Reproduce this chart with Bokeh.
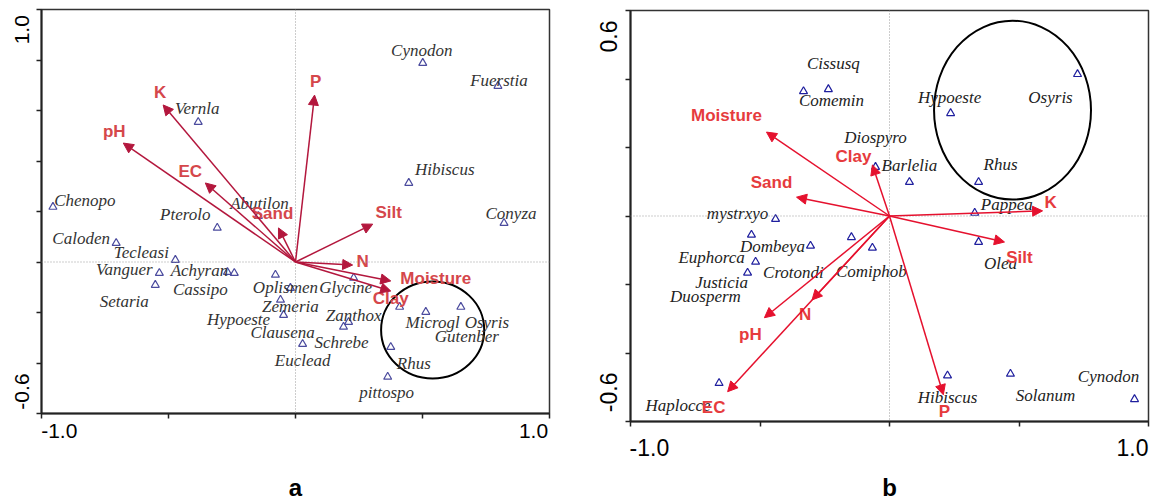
from bokeh.plotting import figure
from bokeh.models import ColumnDataSource, Range1d, FixedTicker, Arrow, NormalHead, Span
from bokeh.layouts import row
from bokeh.embed import file_html
from bokeh.resources import INLINE
from bokeh.core.properties import value

# ---------------- Panel a data ----------------
a_species = ["Vernla", "Chenopo", "Pterolo", "Abutilon", "Caloden", "Tecleasi", "Vanguer",
             "Setaria", "Achyran", "Cassipo", "Oplismen", "Glycine", "Zemeria", "Hypoeste",
             "Clausena", "Zanthox", "Schrebe", "Euclead", "Microgl", "Gutenber", "Osyris",
             "Rhus", "pittospo", "Cynodon", "Fuerstia", "Hibiscus", "Conyza"]
a_sp_x = [-0.383, -0.955, -0.308, -0.146, -0.706, -0.473, -0.536, -0.552, -0.268, -0.241,
          -0.079, 0.229, -0.020, -0.059, -0.047, 0.209, 0.189, 0.028, 0.410, 0.513, 0.651,
          0.375, 0.363, 0.501, 0.797, 0.446, 0.821]
a_sp_y = [0.554, 0.218, 0.135, 0.182, 0.075, 0.008, -0.044, -0.091, -0.040, -0.044,
          -0.051, -0.063, -0.103, -0.150, -0.210, -0.238, -0.257, -0.325, -0.178, -0.198,
          -0.178, -0.337, -0.455, 0.788, 0.697, 0.313, 0.154]
a_env = ["K", "pH", "EC", "Sand", "P", "Silt", "N", "Moisture", "Clay"]
a_env_x = [-0.521, -0.678, -0.355, -0.067, 0.075, 0.304, 0.225, 0.375, 0.375]
a_env_y = [0.622, 0.471, 0.313, 0.135, 0.661, 0.150, -0.012, -0.075, -0.115]
a_x_tick_labels = ["-1.0", "1.0"]
a_y_tick_labels = ["-0.6", "1.0"]
a_panel_label = "a"

# ---------------- Panel b data ----------------
b_species = ["Cissusq", "Comemin", "Hypoeste", "Osyris", "Diospyro", "Barlelia", "Rhus",
             "Pappea", "mystrxyo", "Duosperm", "Dombeya", "Euphorca", "Justicia", "Crotondi",
             "Comiphob", "Olea", "Haplocce", "Hibiscus", "Solanum", "Cynodon"]
b_sp_x = [-0.236, -0.332, 0.236, 0.726, -0.054, 0.077, 0.344, 0.329, -0.440, -0.533,
          -0.305, -0.517, -0.548, -0.147, -0.066, 0.344, -0.658, 0.224, 0.467, 0.946]
b_sp_y = [0.370, 0.364, 0.300, 0.414, 0.143, 0.099, 0.099, 0.009, -0.009, -0.055,
          -0.087, -0.134, -0.166, -0.062, -0.093, -0.076, -0.488, -0.466, -0.461, -0.535]
b_env = ["Moisture", "Sand", "Clay", "K", "Silt", "P", "EC", "pH", "N"]
b_env_x = [-0.475, -0.359, -0.066, 0.591, 0.444, 0.208, -0.625, -0.483, -0.299]
b_env_y = [0.245, 0.055, 0.149, 0.015, -0.076, -0.522, -0.513, -0.297, -0.245]
b_x_tick_labels = ["-1.0", "1.0"]
b_y_tick_labels = ["-0.6", "0.6"]
b_panel_label = "b"

# ---------------- layout: label offsets (screen px) ----------------
a_sp_dx = [-1, 32, -32, 1, -35, -34, -35, -31, -28, -34, 10, -8, 0, -42, -1, 5, -2, 0,
           33, 41, 26, 23, -1, -1, 1, 36, 7]
a_sp_dy = [-14, -6, -13, -13, -5, -7, -4, 17, -2, 16, 13, 10, 18, 20, 17, -7, 16, 16,
           16, 25, 16, 16, 16, -13, -6, -13, -10]
a_env_dx = [-3, -9, -15, -6, 1, 16, 10, 45, 0]
a_env_dy = [-12, -12, -11, -14, -14, -12, -4, -2, 7]

b_sp_dx = [5, 28, -1, -27, 0, 0, 22, 32, -38, -46, -38, -44, -26, -58, -1, 22, -41, 0, 35, -26]
b_sp_dy = [-26, 9, -16, 23, -30, -17, -18, -8, -6, 62, 1, -4, 10, 35, 24, 21, 22, 22, 22, -23]
b_env_dx = [-40, -25, -19, 8, 15, 1, -14, -14, -7]
b_env_dy = [-17, -15, -8, -8, 15, 17, 16, 17, 15]

SERIF = "Liberation Serif"
SANS = "Liberation Sans"


def make_panel(species, sx, sy, sdx, sdy, env, ex, ey, edx, edy,
               x_tick_labels, x_label_pos, y_tick_labels, y_label_pos,
               yr, y_minor, panel_label, width, height, borders, style):
    p = figure(width=width, height=height, x_range=Range1d(-1.0, 1.0), y_range=Range1d(*yr),
               output_backend="svg", toolbar_location=None,
               min_border_left=borders[0], min_border_right=borders[1],
               min_border_top=borders[2], min_border_bottom=borders[3])
    if "frame_align" in p.properties():
        p.frame_align = False
    p.xgrid.visible = False
    p.ygrid.visible = False
    p.outline_line_color = "#333333"
    p.outline_line_width = 1.5
    p.background_fill_color = "white"
    p.border_fill_color = "white"

    for ax in (p.xaxis[0], p.yaxis[0]):
        ax.axis_line_color = "#222222"
        ax.axis_line_width = 2
        ax.major_tick_out = 0
        ax.major_tick_in = 0
        ax.minor_tick_out = 5
        ax.minor_tick_in = 0
        ax.minor_tick_line_color = "#222222"
        ax.minor_tick_line_width = 1.5
        ax.major_label_text_font = SANS
        ax.major_label_text_color = "black"
        ax.major_label_text_font_size = style["tick_fs"]
    p.xaxis.ticker = FixedTicker(ticks=x_label_pos, minor_ticks=[-1.0, -0.5, 0.0, 0.5, 1.0])
    p.xaxis.major_label_overrides = {pos: lab for pos, lab in zip(x_label_pos, x_tick_labels)}
    p.xaxis.major_label_standoff = style["x_standoff"]
    p.yaxis.ticker = FixedTicker(ticks=y_label_pos, minor_ticks=y_minor)
    p.yaxis.major_label_overrides = {pos: lab for pos, lab in zip(y_label_pos, y_tick_labels)}
    p.yaxis.major_label_orientation = "vertical"
    p.yaxis.major_label_standoff = style["y_standoff"]

    # panel letter under the plot frame
    p.xaxis.axis_label = panel_label
    p.xaxis.axis_label_text_font = SANS
    p.xaxis.axis_label_text_font_style = "bold"
    p.xaxis.axis_label_text_font_size = "24px"
    p.xaxis.axis_label_text_color = "black"
    p.xaxis.axis_label_standoff = style["lab_standoff"]

    p.add_layout(Span(location=0, dimension="height", line_color="#9a9a9a",
                      line_dash="1 2", line_width=1))
    p.add_layout(Span(location=0, dimension="width", line_color="#9a9a9a",
                      line_dash="1 2", line_width=1))

    cx, cy, w, h = style["ellipse"]
    p.ellipse(x=cx, y=cy, width=w, height=h, fill_color=None, line_color="black", line_width=2)

    ssrc = ColumnDataSource(dict(x=sx, y=sy, name=species, dx=sdx, dy=sdy))
    p.scatter(x="x", y="y", source=ssrc, marker="triangle", size=8, fill_color=None,
              line_color=style["tri_color"], line_width=1.2)
    p.text(x="x", y="y", text="name", x_offset="dx", y_offset="dy", source=ssrc,
           text_font=value(SERIF), text_font_style="italic", text_font_size=style["sp_fs"],
           text_color=style["sp_color"], text_align="center", text_baseline="middle")

    n = len(env)
    esrc = ColumnDataSource(dict(x0=[0.0] * n, y0=[0.0] * n, x=ex, y=ey, name=env, dx=edx, dy=edy))
    ac = style["arrow_color"]
    p.add_layout(Arrow(end=NormalHead(size=10, fill_color=ac, line_color=ac, line_width=1),
                       x_start="x0", y_start="y0", x_end="x", y_end="y", source=esrc,
                       line_color=ac, line_width=1.5))
    p.text(x="x", y="y", text="name", x_offset="dx", y_offset="dy", source=esrc,
           text_font=value(SANS), text_font_style="bold", text_font_size=style["env_fs"],
           text_color=style["env_color"], text_align="center", text_baseline="middle")
    return p


pa = make_panel(a_species, a_sp_x, a_sp_y, a_sp_dx, a_sp_dy,
                a_env, a_env_x, a_env_y, a_env_dx, a_env_dy,
                a_x_tick_labels, [-0.93, 0.937], a_y_tick_labels, [-0.513, 0.92],
                (-0.6, 1.0), [-0.6, -0.4, -0.2, 0.0, 0.2, 0.4, 0.6, 0.8, 1.0],
                a_panel_label, 575, 503, (41, 26, 9, 90),
                dict(tick_fs="21px", x_standoff=5, y_standoff=7, lab_standoff=33,
                     ellipse=(0.540, -0.269, 0.406, 0.384), tri_color="#4b4b9e",
                     sp_fs="17px", sp_color="#333333", arrow_color="#b3173d",
                     env_fs="17px", env_color="#d5474b"))

pb = make_panel(b_species, b_sp_x, b_sp_y, b_sp_dx, b_sp_dy,
                b_env, b_env_x, b_env_y, b_env_dx, b_env_dy,
                b_x_tick_labels, [-0.927, 0.938], b_y_tick_labels, [-0.515, 0.524],
                (-0.6, 0.6), [-0.6, -0.4, -0.2, 0.0, 0.2, 0.4, 0.6],
                b_panel_label, 576, 503, (55, 3, 10, 81),
                dict(tick_fs="23px", x_standoff=12, y_standoff=8, lab_standoff=15,
                     ellipse=(0.475, 0.309, 0.606, 0.522), tri_color="#1f1f9e",
                     sp_fs="17px", sp_color="#222222", arrow_color="#e5112e",
                     env_fs="17px", env_color="#e63b3d"))

layout = row(pa, pb)
open("out.html", "w").write(file_html(layout, INLINE))
